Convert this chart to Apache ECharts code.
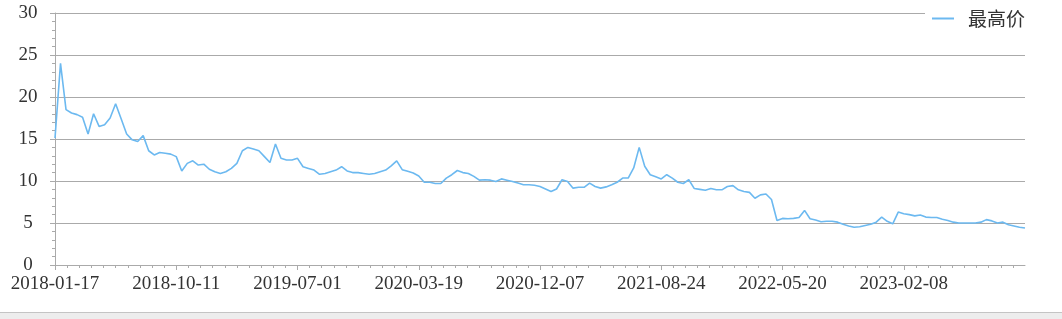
<!DOCTYPE html>
<html>
<head>
<meta charset="utf-8">
<script src="https://cdn.jsdelivr.net/npm/echarts@6/dist/echarts.min.js"></script>
<style>
  html, body { margin: 0; padding: 0; background: #fff; overflow: hidden; }
  #chart { position: absolute; left: 0; top: 0; width: 1062px; height: 319px; }
  #bar { position: absolute; left: 0; top: 312px; width: 1062px; height: 7px; background: #ededed; border-top: 1px solid #c4c4c4; box-sizing: border-box; }
</style>
</head>
<body>
<div id="chart"></div>
<div id="bar"></div>
<script>
// Sampled trading dates (about every 8 trading days)
const dates = [
  '2018-01-17','2018-01-29','2018-02-08','2018-02-27','2018-03-09','2018-03-21','2018-04-02','2018-04-16','2018-04-26','2018-05-10','2018-05-22',
  '2018-06-01','2018-06-13','2018-06-26','2018-07-06','2018-07-18','2018-07-30','2018-08-09','2018-08-21','2018-08-31','2018-09-12','2018-09-25',
  '2018-10-11','2018-10-23','2018-11-02','2018-11-14','2018-11-26','2018-12-06','2018-12-18','2018-12-28','2019-01-11','2019-01-23','2019-02-11',
  '2019-02-21','2019-03-05','2019-03-15','2019-03-27','2019-04-09','2019-04-19','2019-05-06','2019-05-16','2019-05-28','2019-06-10','2019-06-20',
  '2019-07-01','2019-07-11','2019-07-23','2019-08-02','2019-08-14','2019-08-26','2019-09-05','2019-09-18','2019-09-30','2019-10-16','2019-10-28',
  '2019-11-07','2019-11-19','2019-11-29','2019-12-11','2019-12-23','2020-01-03','2020-01-15','2020-02-04','2020-02-14','2020-02-26','2020-03-09',
  '2020-03-19','2020-03-31','2020-04-13','2020-04-23','2020-05-08','2020-05-20','2020-06-01','2020-06-11','2020-06-23','2020-07-06','2020-07-16',
  '2020-07-28','2020-08-07','2020-08-19','2020-08-31','2020-09-10','2020-09-22','2020-10-12','2020-10-22','2020-11-03','2020-11-13','2020-11-25',
  '2020-12-07','2020-12-17','2020-12-29','2021-01-11','2021-01-21','2021-02-02','2021-02-19','2021-03-03','2021-03-15','2021-03-25','2021-04-07',
  '2021-04-19','2021-04-29','2021-05-17','2021-05-27','2021-06-08','2021-06-21','2021-07-01','2021-07-13','2021-07-23','2021-08-04','2021-08-12',
  '2021-08-24','2021-09-03','2021-09-15','2021-09-29','2021-10-15','2021-10-27','2021-11-08','2021-11-18','2021-11-30','2021-12-10','2021-12-22',
  '2022-01-04','2022-01-14','2022-01-26','2022-02-15','2022-02-25','2022-03-09','2022-03-21','2022-03-31','2022-04-14','2022-04-26','2022-05-10',
  '2022-05-20','2022-06-01','2022-06-14','2022-06-24','2022-07-06','2022-07-18','2022-07-28','2022-08-09','2022-08-19','2022-08-31','2022-09-13',
  '2022-09-23','2022-10-12','2022-10-24','2022-11-03','2022-11-15','2022-11-25','2022-12-07','2022-12-19','2022-12-29','2023-01-11','2023-01-30',
  '2023-02-08','2023-02-20','2023-03-02','2023-03-14','2023-03-24','2023-04-06','2023-04-18','2023-04-28','2023-05-15','2023-05-25','2023-06-06',
  '2023-06-16','2023-06-30','2023-07-12','2023-07-24','2023-08-03','2023-08-15','2023-08-25','2023-09-06','2023-09-18','2023-09-28','2023-10-18',
  '2023-10-30'
];

// 最高价 values
const highs = [
  15.1, 24.0, 18.5, 18.1, 17.9, 17.6, 15.6, 18.0, 16.5, 16.7, 17.5,
  19.2, 17.4, 15.6, 14.9, 14.7, 15.4, 13.6, 13.1, 13.4, 13.3, 13.2,
  12.9, 11.2, 12.1, 12.4, 11.9, 12.0, 11.4, 11.1, 10.9, 11.1, 11.5,
  12.1, 13.6, 14.0, 13.8, 13.6, 12.9, 12.2, 14.4, 12.7, 12.5, 12.5,
  12.7, 11.7, 11.5, 11.3, 10.8, 10.9, 11.1, 11.3, 11.7, 11.2, 11.0,
  11.0, 10.9, 10.8, 10.9, 11.1, 11.3, 11.8, 12.4, 11.35, 11.15, 10.95,
  10.6, 9.85, 9.85, 9.7, 9.7, 10.35, 10.75, 11.25, 11.0, 10.9, 10.55,
  10.1, 10.15, 10.1, 9.95, 10.25, 10.1, 9.95, 9.75, 9.55, 9.55, 9.5,
  9.35, 9.05, 8.75, 9.05, 10.15, 9.95, 9.15, 9.25, 9.25, 9.75, 9.35,
  9.15, 9.3, 9.55, 9.85, 10.35, 10.35, 11.55, 14.0, 11.75, 10.75, 10.5,
  10.25, 10.75, 10.35, 9.85, 9.7, 10.15, 9.1, 9.0, 8.9, 9.1, 8.95,
  8.95, 9.35, 9.45, 8.95, 8.75, 8.65, 7.95, 8.35, 8.45, 7.8, 5.3,
  5.55, 5.5, 5.55, 5.65, 6.5, 5.5, 5.35, 5.15, 5.2, 5.2, 5.1,
  4.85, 4.65, 4.5, 4.55, 4.7, 4.85, 5.1, 5.7, 5.2, 4.9, 6.3,
  6.1, 6.0, 5.85, 5.95, 5.7, 5.65, 5.65, 5.45, 5.3, 5.1, 5.0,
  5.0, 5.0, 5.0, 5.1, 5.4, 5.25, 5.0, 5.1, 4.8, 4.65, 4.5,
  4.4
];

const seriesName = '最高价';
const yMin = 0, yMax = 30, yStep = 5;
const labelEvery = 22; // categories between shown date labels

const axisGray = '#aaaaaa';
const textColor = '#333333';
const labelFont = 'Liberation Serif';

const lastIdx = dates.length - 1;
const showAt = (idx) => idx % labelEvery === 0 && idx < lastIdx;

const chart = echarts.init(document.getElementById('chart'), null, { renderer: 'canvas' });
chart.setOption({
  animation: false,
  backgroundColor: 'transparent',
  grid: { left: 55, right: 37, top: 13, bottom: 54, containLabel: false, outerBoundsMode: 'none' },
  legend: {
    data: [seriesName],
    right: 35, top: 4,
    padding: [5, 2, 5, 7],
    backgroundColor: '#ffffff',
    icon: 'rect', itemWidth: 22, itemHeight: 2,
    textStyle: { fontSize: 19, fontFamily: 'Noto Sans CJK SC', color: textColor, padding: [0, 0, 0, 9] }
  },
  xAxis: [{
    type: 'category',
    data: dates,
    boundaryGap: false,
    axisLine: { show: true, lineStyle: { color: axisGray, width: 1 } },
    axisTick: { show: true, interval: showAt, length: 5, lineStyle: { color: axisGray } },
    axisLabel: { interval: showAt, fontSize: 19, fontFamily: labelFont, color: textColor, margin: 10 },
    splitLine: { show: false }
  }, {
    type: 'value',
    min: 0, max: lastIdx, interval: labelEvery,
    position: 'bottom',
    axisLine: { show: false },
    axisTick: { show: true, length: 0, lineStyle: { color: axisGray, width: 0 } },
    axisLabel: { show: false },
    splitLine: { show: false },
    minorTick: { show: true, splitNumber: 10, length: 3, lineStyle: { color: axisGray, width: 1 } },
    minorSplitLine: { show: false }
  }],
  yAxis: {
    type: 'value',
    min: yMin, max: yMax, interval: yStep,
    axisLine: { show: true, lineStyle: { color: axisGray, width: 1 } },
    axisTick: { show: true, length: 5, lineStyle: { color: axisGray } },
    minorTick: { show: true, splitNumber: 5, length: 3, lineStyle: { color: axisGray } },
    axisLabel: { fontSize: 19, fontFamily: labelFont, color: textColor, align: 'center', margin: 27 },
    splitLine: { show: true, lineStyle: { color: axisGray, width: 1 } }
  },
  series: [{
    name: seriesName,
    type: 'line',
    xAxisIndex: 0,
    data: highs,
    showSymbol: false,
    symbol: 'none',
    lineStyle: { color: '#6cb9f0', width: 1.6 },
    itemStyle: { color: '#6cb9f0' }
  }]
});
</script>
</body>
</html>
